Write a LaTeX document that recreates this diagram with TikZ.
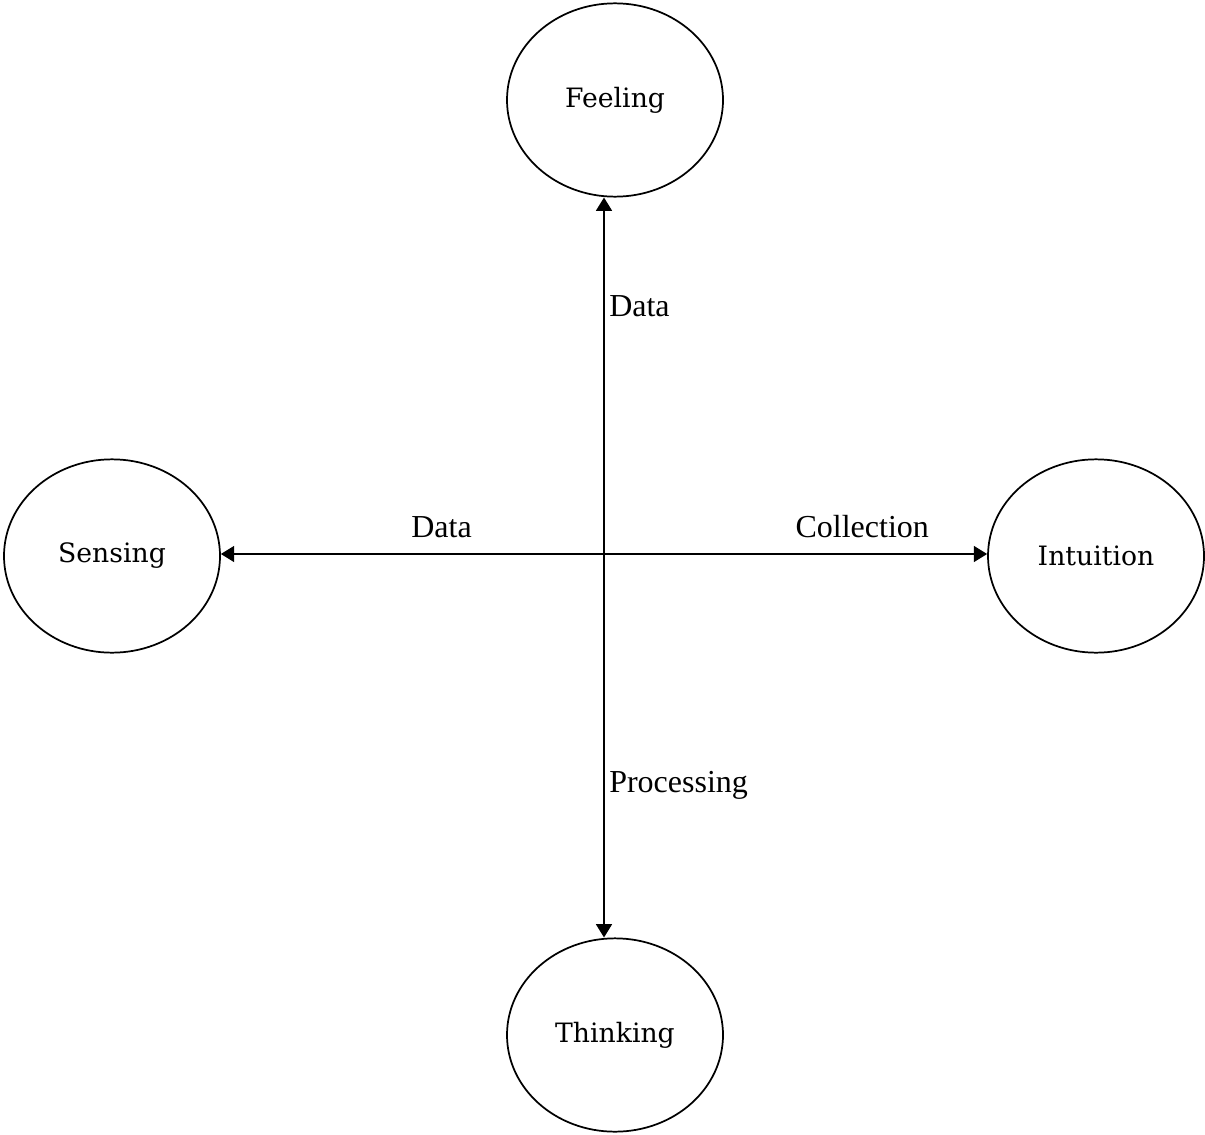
\documentclass[tikz,border=0pt]{standalone}
\usepackage{fontspec}
\setmainfont{Liberation Serif}
\newfontfamily\slabfont{DejaVu Serif}
\usetikzlibrary{shapes.geometric, arrows.meta, positioning}

\tikzset{
  function/.style={draw, ellipse, line width=1.3pt, minimum width=162pt, minimum height=145pt,
    inner sep=0pt, font=\slabfont\fontsize{20}{24}\selectfont},
  link/.style={{Triangle[width=12pt,length=10pt]}-{Triangle[width=12pt,length=10pt]}, line width=1.2pt}
}

\begin{document}
\begin{tikzpicture}[x=0.75pt, y=-0.75pt, font=\fontsize{24}{28}\selectfont]
  \useasboundingbox (0,0) rectangle (1205,1134);

  % The four functions
  \node[function] (feeling) at (615,100) {Feeling};
  \node[function] (sensing) at (112,556) {Sensing};
  \node[function] (intuition) at (1096,556) {Intuition};
  \node[function] (thinking) at (615,1035) {Thinking};

  % Crossing point of the axes
  \coordinate (hub) at (604,554);

  % Vertical axis
  \draw[link] (hub |- feeling.south) -- node[pos=0.147, right] {Data}
    node[pos=0.795, right] {Processing} (hub |- thinking.north);

  % Horizontal axis
  \draw[link] (sensing.east |- hub) -- node[pos=0.288, above=8.5pt] {Data}
    node[pos=0.837, above=8.5pt] {Collection} (intuition.west |- hub);
\end{tikzpicture}
\end{document}
